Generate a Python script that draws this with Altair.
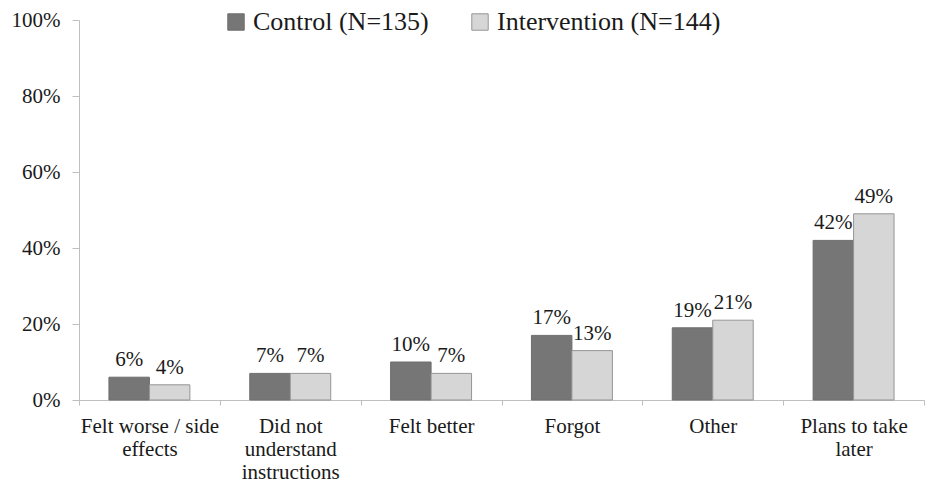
import altair as alt
import pandas as pd

# Data
categories = [
    "Felt worse / side|effects",
    "Did not|understand|instructions",
    "Felt better",
    "Forgot",
    "Other",
    "Plans to take|later",
]
series = ["Control (N=135)", "Intervention (N=144)"]
control = [6, 7, 10, 17, 19, 42]
intervention = [4, 7, 7, 13, 21, 49]

rows = []
for c, v in zip(categories, control):
    rows.append({"category": c, "series": series[0], "value": v, "label": f"{v}%"})
for c, v in zip(categories, intervention):
    rows.append({"category": c, "series": series[1], "value": v, "label": f"{v}%"})
df = pd.DataFrame(rows)

FONT = "Times New Roman, Liberation Serif, serif"

x_enc = alt.X(
    "category:N",
    sort=categories,
    scale=alt.Scale(paddingInner=0, paddingOuter=0),
    axis=alt.Axis(
        title=None,
        labelAngle=0,
        labelExpr="split(datum.label, '|')",
        labelFont=FONT,
        labelFontSize=21,
        labelColor="#1a1a1a",
        labelLineHeight=23,
        labelPadding=10,
        labelLimit=0,
        tickBand="extent",
        tickSize=5,
        tickColor="#bfbfbf",
        domainColor="#bfbfbf",
    ),
)
xoff = alt.XOffset(
    "series:N",
    sort=series,
    scale=alt.Scale(domain=series, paddingOuter=0.74, paddingInner=0),
)
y_enc = alt.Y(
    "value:Q",
    scale=alt.Scale(domain=[0, 100]),
    axis=alt.Axis(
        title=None,
        values=[0, 20, 40, 60, 80, 100],
        labelExpr="datum.value + '%'",
        labelFont=FONT,
        labelFontSize=21,
        labelColor="#1a1a1a",
        labelPadding=12,
        tickSize=7,
        tickColor="#bfbfbf",
        domainColor="#bfbfbf",
        grid=False,
    ),
)

bars = alt.Chart(df).mark_bar(strokeWidth=1).encode(
    x=x_enc,
    xOffset=xoff,
    y=y_enc,
    color=alt.Color(
        "series:N",
        sort=series,
        scale=alt.Scale(domain=series, range=["#767676", "#d6d6d6"]),
        legend=alt.Legend(
            title=None,
            orient="none",
            legendX=144,
            legendY=-11,
            direction="horizontal",
            symbolType="square",
            symbolSize=270,
            symbolStrokeColor="#8a8a8a",
            symbolStrokeWidth=1,
            labelFont=FONT,
            labelFontSize=26,
            labelColor="#1a1a1a",
            labelOffset=4,
            labelLimit=400,
            columnPadding=38,
            padding=0,
        ),
    ),
    stroke=alt.Stroke(
        "series:N",
        sort=series,
        scale=alt.Scale(domain=series, range=["#6e6e6e", "#959595"]),
        legend=None,
    ),
)

labels = alt.Chart(df).mark_text(
    baseline="alphabetic", dy=-11, font=FONT, fontSize=21, color="#1a1a1a"
).encode(
    x=alt.X("category:N", sort=categories),
    xOffset=alt.XOffset("series:N", sort=series),
    y=alt.Y("value:Q"),
    text="label:N",
)

chart = (
    alt.layer(bars, labels)
    .properties(
        width=845,
        height=380,
        autosize=alt.AutoSizeParams(type="none"),
        padding={"left": 71, "top": 12, "right": 3, "bottom": 84},
    )
    .configure_view(stroke=None)
)

chart.save("out.html", embed_options={"renderer": "svg", "actions": False})
